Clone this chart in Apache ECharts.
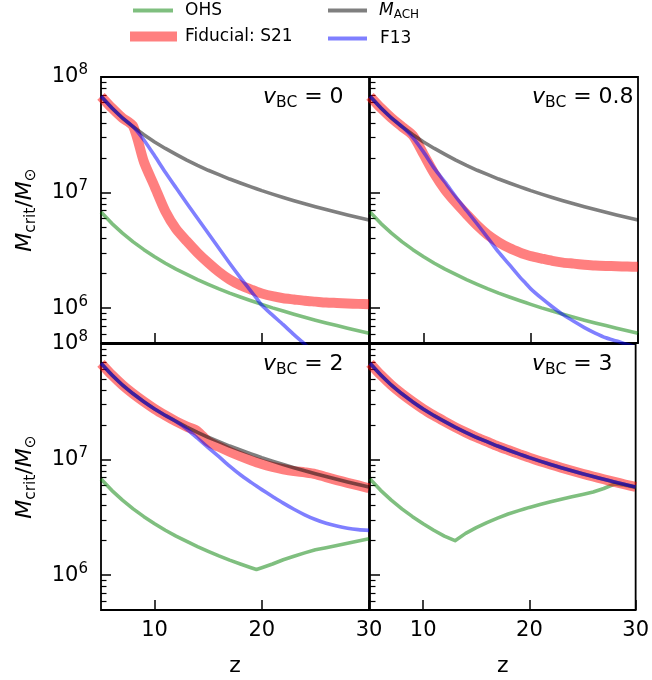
<!DOCTYPE html>
<html>
<head>
<meta charset="utf-8">
<script src="https://cdn.jsdelivr.net/npm/echarts@6/dist/echarts.min.js"></script>
<style>
    html, body { margin: 0; padding: 0; background: #fff; }
    #chart { width: 652px; height: 680px; }
</style>
</head>
<body>
<div id="chart"></div>
<script>
// redshift grid shared by all curves
var zs = [5, 6, 7, 8, 9, 10, 11, 12, 13, 14, 15, 16, 17, 18, 19, 19.5, 20, 21, 22, 23, 24, 25, 26, 27, 28, 29, 30];

// masses in units of 10^6 Msun
var mAch = [68.1, 54.1, 44.2, 37.1, 31.7, 27.4, 24.1, 21.4, 19.1, 17.2, 15.6, 14.3, 13.1, 12.1, 11.2, 10.8,
    10.4, 9.70, 9.08, 8.51, 8.01, 7.55, 7.14, 6.76, 6.41, 6.09, 5.80];

// vBC = 0
var ohsV0 = [6.80, 5.42, 4.46, 3.75, 3.21, 2.79, 2.45, 2.18, 1.96, 1.77, 1.61, 1.47, 1.35, 1.25, 1.16, 1.12,
    1.08, 1.007, 0.944, 0.886, 0.834, 0.788, 0.745, 0.707, 0.671, 0.639, 0.608];
var s21V0 = [68.1, 54.1, 44.2, 37.5, 18.5, 11.3, 6.9, 4.85, 3.8, 3.02, 2.47, 2.06, 1.77, 1.58, 1.45, 1.39,
    1.34, 1.27, 1.22, 1.19, 1.16, 1.14, 1.12, 1.11, 1.10, 1.09, 1.08];
var f13V0 = [68.1, 54.1, 44.2, 37.1, 28.5, 20.8, 15.0, 11.0, 8.1, 6.0, 4.45, 3.3, 2.45, 1.84, 1.40, 1.22,
    1.06, 0.87, 0.72, 0.59, 0.49, 0.40, 0.33, 0.275, 0.23, 0.195, 0.165];

// vBC = 0.8
var ohsV08 = [6.80, 5.42, 4.46, 3.75, 3.21, 2.79, 2.45, 2.18, 1.96, 1.77, 1.61, 1.47, 1.35, 1.25, 1.16, 1.12,
    1.08, 1.007, 0.944, 0.886, 0.834, 0.788, 0.745, 0.707, 0.671, 0.639, 0.608];
var s21V08 = [68.1, 54.1, 44.2, 37.1, 31.2, 21.4, 14.6, 10.6, 8.2, 6.5, 5.2, 4.3, 3.72, 3.31, 3.02, 2.91,
    2.82, 2.69, 2.57, 2.48, 2.43, 2.38, 2.34, 2.32, 2.31, 2.29, 2.28];
var f13V08 = [68.1, 54.1, 44.2, 37.1, 29.9, 22.4, 16.2, 12.3, 9.2, 7.0, 5.35, 4.05, 3.05, 2.38, 1.85, 1.65,
    1.47, 1.22, 1.03, 0.88, 0.77, 0.68, 0.61, 0.555, 0.52, 0.485, 0.455];

// vBC = 2
var ohsV2 = [6.80, 5.42, 4.46, 3.75, 3.21, 2.79, 2.45, 2.18, 1.96, 1.77, 1.61, 1.47, 1.35, 1.25, 1.16, 1.12,
    1.16, 1.25, 1.36, 1.46, 1.56, 1.66, 1.73, 1.81, 1.89, 1.98, 2.07];
var s21V2 = [68.1, 54.1, 44.2, 37.1, 31.7, 27.4, 24.1, 21.4, 19.3, 17.6, 14.3, 12.9, 11.7, 10.7, 9.85, 9.5,
    9.15, 8.65, 8.25, 7.95, 7.75, 7.5, 7.05, 6.65, 6.3, 5.98, 5.65];
var f13V2 = [68.1, 54.1, 44.2, 37.1, 31.7, 27.4, 24.1, 21.4, 18.4, 15.3, 12.7, 10.6, 8.8, 7.4, 6.35, 5.9,
    5.5, 4.8, 4.2, 3.72, 3.33, 3.03, 2.81, 2.66, 2.55, 2.48, 2.44];

// vBC = 3
var ohsV3 = [6.80, 5.42, 4.46, 3.75, 3.21, 2.79, 2.45, 2.18, 1.99, 2.30, 2.58, 2.85, 3.12, 3.38, 3.62, 3.74,
    3.86, 4.09, 4.31, 4.54, 4.77, 5.00, 5.25, 5.62, 6.15, 6.00, 5.75];
var s21V3 = [68.1, 54.1, 44.2, 37.1, 31.7, 27.4, 24.1, 21.4, 19.1, 17.2, 15.6, 14.3, 13.1, 12.1, 11.2, 10.8,
    10.4, 9.70, 9.08, 8.51, 8.01, 7.55, 7.14, 6.76, 6.41, 6.09, 5.80];
var f13V3 = [68.1, 54.1, 44.2, 37.1, 31.7, 27.4, 24.1, 21.4, 19.1, 17.2, 15.6, 14.3, 13.1, 12.1, 11.2, 10.8,
    10.4, 9.70, 9.08, 8.51, 8.01, 7.55, 7.14, 6.76, 6.41, 6.09, 5.80];

var vLabels = ['0', '0.8', '2', '3'];
var xTicks = [10, 20, 30];
var yMajor = [1e6, 1e7, 1e8];
var yMinor = [6e5, 7e5, 8e5, 9e5, 2e6, 3e6, 4e6, 5e6, 6e6, 7e6, 8e6, 9e6,
    2e7, 3e7, 4e7, 5e7, 6e7, 7e7, 8e7, 9e7];

var unit = 1e6;
var FONT = 'DejaVu Sans';
var C_OHS = 'rgba(0,128,0,0.5)', C_S21 = 'rgba(255,0,0,0.5)', C_ACH = 'rgba(0,0,0,0.5)', C_F13 = 'rgba(0,0,255,0.5)';

var panels = [
    { left: 101, top: 77, ohs: ohsV0, s21: s21V0, f13: f13V0, first: true, last: false },
    { left: 370, top: 77, ohs: ohsV08, s21: s21V08, f13: f13V08, first: false, last: false },
    { left: 101, top: 344, ohs: ohsV2, s21: s21V2, f13: f13V2, first: true, last: true },
    { left: 370, top: 344, ohs: ohsV3, s21: s21V3, f13: f13V3, first: false, last: true }
];

var mathRich = {
    i: { fontFamily: FONT, fontStyle: 'italic', fontSize: 22, lineHeight: 28, color: '#000' },
    s: { fontFamily: FONT, fontSize: 15.5, lineHeight: 16, verticalAlign: 'bottom', color: '#000' },
    n: { fontFamily: FONT, fontSize: 22, lineHeight: 28, color: '#000' }
};

function toPairs(vals) {
    return zs.map(function (z, k) { return [z, vals[k] * unit]; });
}

var grids = [], xAxes = [], yAxes = [], series = [], texts = [];

panels.forEach(function (p, i) {
    grids.push({
        left: p.left, top: p.top, width: 268, height: 266,
        show: true, borderColor: '#000', borderWidth: 1.8, backgroundColor: 'transparent'
    });

    xAxes.push({
        gridIndex: i, type: 'value', min: 5, max: 30,
        axisLine: { show: false, onZero: false },
        splitLine: { show: false },
        axisTick: { show: true, inside: true, length: 10, customValues: xTicks, lineStyle: { color: '#000', width: 1.5 } },
        axisLabel: { show: p.last, customValues: xTicks, fontFamily: FONT, fontSize: 21, color: '#000', margin: 10 },
        name: p.last ? 'z' : '', nameLocation: 'middle', nameGap: 45,
        nameTextStyle: { fontFamily: FONT, fontSize: 22, color: '#000' }
    });

    // major decades + labels
    yAxes.push({
        gridIndex: i, type: 'log', logBase: 10, min: 5e5, max: 1e8, position: 'left',
        axisLine: { show: false },
        splitLine: { show: false },
        axisTick: { show: true, inside: true, length: 10, customValues: yMajor, lineStyle: { color: '#000', width: 1.5 } },
        axisLabel: {
            show: p.first, customValues: yMajor, margin: 13,
            formatter: function (v) { return '{b|10}{p|' + Math.round(Math.log10(v)) + '}'; },
            rich: {
                b: { fontFamily: FONT, fontSize: 21, lineHeight: 28, color: '#000' },
                p: { fontFamily: FONT, fontSize: 15, lineHeight: 15, verticalAlign: 'top', color: '#000' }
            }
        },
        name: p.first ? '{i|M}{s|crit}{n|/}{i|M}{s|⊙}' : '',
        nameLocation: 'middle', nameGap: 62,
        nameTextStyle: { rich: mathRich }
    });
    // minor ticks 2..9
    yAxes.push({
        gridIndex: i, type: 'log', logBase: 10, min: 5e5, max: 1e8, position: 'left',
        axisLine: { show: false },
        splitLine: { show: false },
        axisLabel: { show: false },
        axisTick: { show: true, inside: true, length: 5.5, customValues: yMinor, lineStyle: { color: '#000', width: 1.2 } }
    });

    var common = { type: 'line', xAxisIndex: i, yAxisIndex: 2 * i, symbol: 'none', showSymbol: false, silent: true, animation: false };
    series.push(Object.assign({}, common, {
        name: 'OHS', data: toPairs(p.ohs),
        itemStyle: { color: C_OHS },
        lineStyle: { color: '#008000', width: 3.6, opacity: 0.5, join: 'round' }
    }));
    series.push(Object.assign({}, common, {
        name: 'Fiducial: S21', data: toPairs(p.s21), smooth: 0.25,
        itemStyle: { color: C_S21 },
        lineStyle: { color: '#ff0000', width: 10, opacity: 0.5, join: 'round' }
    }));
    series.push(Object.assign({}, common, {
        name: 'M_ACH', data: toPairs(mAch),
        itemStyle: { color: C_ACH },
        lineStyle: { color: '#000000', width: 3.6, opacity: 0.5, join: 'round' }
    }));
    series.push(Object.assign({}, common, {
        name: 'F13', data: toPairs(p.f13), smooth: 0.25,
        itemStyle: { color: C_F13 },
        lineStyle: { color: '#0000ff', width: 3.6, opacity: 0.5, join: 'round' }
    }));

    texts.push({
        type: 'text', x: p.left + 162, y: p.top + 20,
        style: {
            text: '{i|v}{s|BC}{n| = ' + vLabels[i] + '}',
            rich: mathRich, verticalAlign: 'middle', align: 'left', fill: '#000'
        }
    });
});

var legendRich = {
    i: { fontFamily: FONT, fontStyle: 'italic', fontSize: 17, lineHeight: 21, color: '#000' },
    s: { fontFamily: FONT, fontSize: 12, lineHeight: 12, verticalAlign: 'bottom', color: '#000' }
};

// one legend per entry so each handle gets its own thickness
function legendEntry(name, color, left, top, w, h, pad) {
    return {
        orient: 'vertical', left: left, top: top, itemWidth: w, itemHeight: h,
        selectedMode: false, icon: 'rect',
        formatter: function (n) { return n === 'M_ACH' ? '{i|M}{s|ACH}' : n; },
        textStyle: { fontFamily: FONT, fontSize: 17, color: '#000', lineHeight: 21, padding: [0, 0, 0, pad], rich: legendRich },
        data: [{ name: name, itemStyle: { color: color, borderWidth: 0, opacity: 1 } }]
    };
}

var option = {
    animation: false,
    backgroundColor: '#fff',
    grid: grids,
    xAxis: xAxes,
    yAxis: yAxes,
    series: series,
    graphic: texts,
    legend: [
        legendEntry('OHS', C_OHS, 128, -5, 40, 4, 7),
        legendEntry('Fiducial: S21', C_S21, 125, 21, 47, 10, 3),
        legendEntry('M_ACH', C_ACH, 323, -5, 39, 4, 7),
        legendEntry('F13', C_F13, 323, 23, 39, 4, 8)
    ]
};

var myChart = echarts.init(document.getElementById('chart'));
myChart.setOption(option);
</script>
</body>
</html>
